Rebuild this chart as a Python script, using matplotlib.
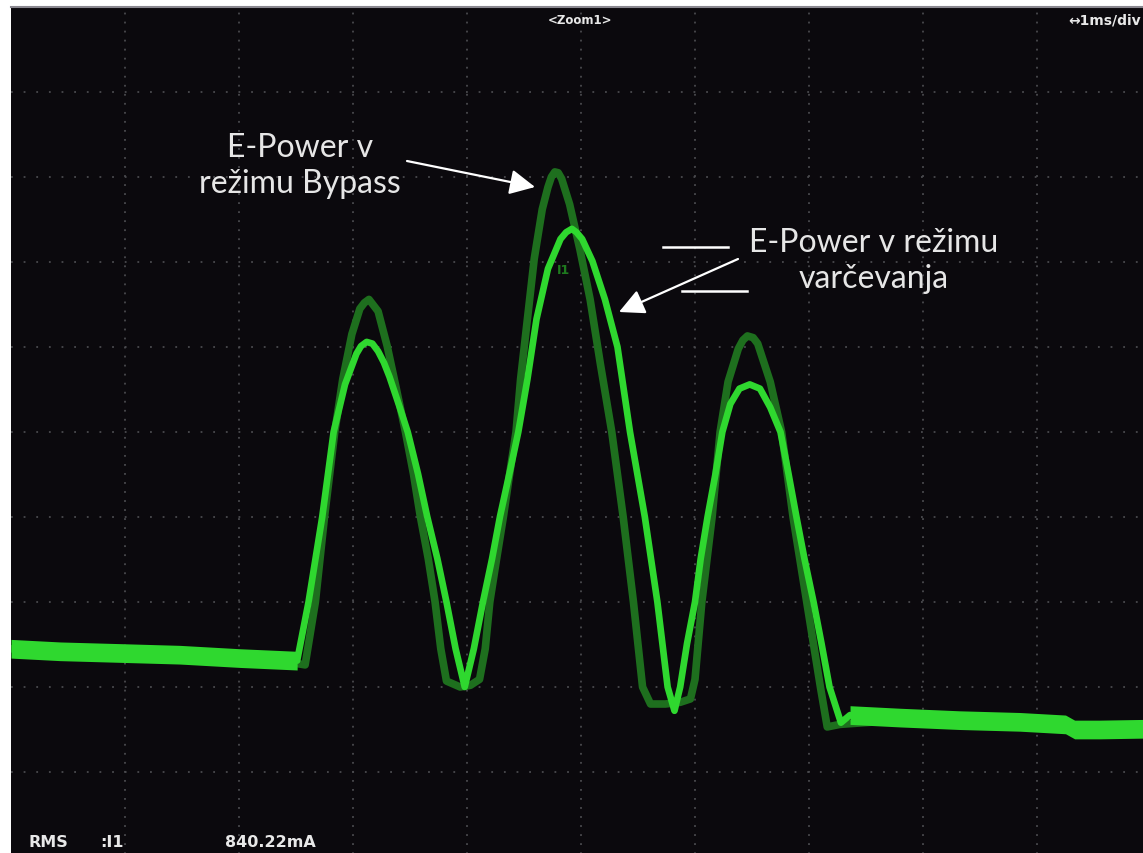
import matplotlib
matplotlib.use("Agg")
import matplotlib.pyplot as plt
import numpy as np

# ---------------- data (time in ms, amplitude in screen divisions) ----------------
# E-Power in savings mode (bright trace)
save_base_left_t = [0.00, 0.43, 0.96, 1.48, 2.01, 2.51]
save_base_left_v = [2.45, 2.42, 2.40, 2.38, 2.34, 2.31]
save_pulse_t = [2.51, 2.61, 2.73, 2.83, 2.93, 3.03, 3.07, 3.12, 3.17, 3.22, 3.27, 3.32, 3.41,
                3.48, 3.57, 3.65, 3.74, 3.82, 3.90, 3.98,
                4.06, 4.14, 4.22, 4.29, 4.38, 4.45, 4.53, 4.61, 4.71, 4.82, 4.87, 4.92, 4.96,
                5.01, 5.10, 5.21, 5.32, 5.43, 5.56, 5.67, 5.76, 5.82,
                5.87, 5.93, 6.00, 6.05, 6.11, 6.18, 6.24, 6.31, 6.39, 6.48, 6.57, 6.66, 6.75,
                6.82, 6.89, 6.96, 7.04, 7.11, 7.18, 7.28, 7.36]
save_pulse_v = [2.31, 3.00, 4.00, 5.00, 5.56, 5.92, 6.01, 6.06, 6.04, 5.95, 5.82, 5.65, 5.29,
                5.00, 4.51, 4.01, 3.51, 3.00, 2.45, 2.00,
                2.45, 3.00, 3.51, 4.01, 4.56, 5.00, 5.62, 6.33, 6.92, 7.27, 7.35, 7.39, 7.35,
                7.27, 7.01, 6.56, 6.00, 5.00, 4.00, 3.00, 2.00, 1.72,
                2.00, 2.51, 3.00, 3.51, 4.00, 4.51, 5.00, 5.33, 5.51, 5.56, 5.51, 5.29, 5.00,
                4.51, 4.00, 3.51, 3.00, 2.51, 2.00, 1.58, 1.67]
save_base_right_t = [7.36, 7.80, 8.32, 8.85, 9.25, 9.33, 9.55, 10.00]
save_base_right_v = [1.67, 1.64, 1.61, 1.59, 1.56, 1.50, 1.50, 1.51]

# E-Power in bypass mode (dark trace)
byp_t = [0.00, 0.43, 0.96, 1.48, 2.01, 2.49, 2.58, 2.67, 2.75, 2.84, 2.91, 2.99, 3.06, 3.10,
         3.14, 3.18, 3.22, 3.30, 3.38, 3.46, 3.53, 3.59, 3.66, 3.72, 3.77, 3.82, 3.94, 4.03,
         4.11, 4.16, 4.20, 4.26, 4.32, 4.38, 4.43, 4.47, 4.53, 4.59, 4.66, 4.71, 4.74, 4.77,
         4.80, 4.83, 4.90, 4.99, 5.08, 5.17, 5.27, 5.37, 5.46, 5.54, 5.61, 5.74, 5.87, 5.96,
         6.00, 6.06, 6.15, 6.22, 6.29, 6.38, 6.42, 6.46, 6.51, 6.55, 6.66, 6.76, 6.86, 6.98,
         7.10, 7.16, 7.27, 7.80, 8.85, 10.00]
byp_v = [2.45, 2.42, 2.40, 2.38, 2.34, 2.28, 2.26, 3.00, 4.00, 5.00, 5.62, 6.15, 6.45, 6.52,
         6.56, 6.49, 6.42, 6.01, 5.51, 5.00, 4.51, 4.01, 3.51, 3.00, 2.45, 2.07, 2.00, 2.02,
         2.09, 2.45, 3.00, 3.51, 4.01, 4.56, 5.00, 5.62, 6.33, 7.04, 7.62, 7.88, 8.00, 8.06,
         8.05, 7.98, 7.68, 7.15, 6.56, 5.80, 5.00, 4.00, 3.00, 2.00, 1.80, 1.80, 1.82, 1.86,
         2.09, 3.00, 4.00, 5.00, 5.59, 5.98, 6.08, 6.13, 6.11, 6.04, 5.59, 5.00, 4.00, 3.00,
         2.00, 1.53, 1.56, 1.61, 1.56, 1.49]

header_center = "<Zoom1>"
header_right = "\u21941ms/div"
meas_name = "RMS"
meas_chan = ":I1"
meas_value = "840.22mA"
label_bypass = "E-Power v\nrežimu Bypass"
label_save = "E-Power v režimu\nvarčevanja"

# ---------------- figure ----------------
W, H = 1143, 854
fig = plt.figure(figsize=(W / 100, H / 100), dpi=100, facecolor="white")

def fx(px):
    return px / W

def fy(py):
    return 1 - py / H

ax = fig.add_axes([fx(11), fy(858), 1140 / W, 850 / H])
ax.set_facecolor("#0b090d")
ax.set_xlim(0, 10)
ax.set_ylim(0, 10)
for s in ["left", "right", "bottom"]:
    ax.spines[s].set_visible(False)
ax.spines["top"].set_color("#8a8890")
ax.spines["top"].set_linewidth(1.5)
ax.set_xticks([])
ax.set_yticks([])

# dotted graticule
grid_col = "#4a4a4e"
for k in range(1, 10):
    ax.axvline(k, color=grid_col, lw=1.3, ls=(0, (1, 4)), zorder=1)
    ax.axhline(k, color=grid_col, lw=1.3, ls=(0, (1, 6)), zorder=1)

bright = "#2fd82f"
dark = "#1e6f1e"

# bypass (dark) trace
ax.plot(byp_t, byp_v, color=dark, lw=5.5, solid_joinstyle="round",
        solid_capstyle="round", zorder=2)

# savings (bright) trace
band = 0.11
ax.fill_between(save_base_left_t, np.array(save_base_left_v) - band,
                np.array(save_base_left_v) + band, color=bright, lw=0, zorder=3)
ax.fill_between(save_base_right_t, np.array(save_base_right_v) - band,
                np.array(save_base_right_v) + band, color=bright, lw=0, zorder=3)
ax.plot(save_pulse_t, save_pulse_v, color=bright, lw=4.8, solid_joinstyle="round",
        solid_capstyle="round", zorder=3)

# small channel marker
fig.text(fx(564), fy(270), "I1", color="#1e7a1e", fontsize=9, fontweight="bold",
         family=["Liberation Sans Narrow", "DejaVu Sans"], ha="center", va="center")

# scope header / footer text
scope_font = ["Liberation Sans Narrow", "DejaVu Sans"]
fig.text(fx(580), fy(20), header_center, color="#e8e8e8", fontsize=8.5, fontweight="bold",
         family=scope_font, ha="center", va="center")
fig.text(fx(1141), fy(20), header_right, color="#e8e8e8", fontsize=10, fontweight="bold",
         family=scope_font, ha="right", va="center")
fig.text(fx(29), fy(843), meas_name, color="#e8e8e8", fontsize=11.5, fontweight="bold",
         family=scope_font, ha="left", va="center")
fig.text(fx(100), fy(843), meas_chan, color="#e8e8e8", fontsize=11.5, fontweight="bold",
         family=scope_font, ha="left", va="center")
fig.text(fx(225), fy(843), meas_value, color="#e8e8e8", fontsize=11.5, fontweight="bold",
         family=scope_font, ha="left", va="center")

# annotations
txt_col = "#e6e6e6"
ann_font = ["Lato", "DejaVu Sans"]
fig.text(fx(300), fy(166), label_bypass, color=txt_col, fontsize=23, family=ann_font,
         ha="center", va="center", linespacing=1.28)
fig.text(fx(874), fy(261), label_save, color=txt_col, fontsize=23, family=ann_font,
         ha="center", va="center", linespacing=1.22)

arrow_kw = dict(arrowstyle="-|>,head_length=1.1,head_width=0.55", color="white", lw=1.6,
                shrinkA=0, shrinkB=0, mutation_scale=14)
fig.add_artist(matplotlib.patches.FancyArrowPatch((fx(407), fy(162)), (fx(535), fy(188)),
               transform=fig.transFigure, **arrow_kw))
fig.add_artist(matplotlib.patches.FancyArrowPatch((fx(738), fy(260)), (fx(619), fy(313)),
               transform=fig.transFigure, **arrow_kw))

fig.add_artist(matplotlib.lines.Line2D([fx(663), fx(728)], [fy(248), fy(248)],
               transform=fig.transFigure, color="white", lw=1.8))
fig.add_artist(matplotlib.lines.Line2D([fx(682), fx(747)], [fy(292), fy(292)],
               transform=fig.transFigure, color="white", lw=1.8))

fig.savefig("out.png", dpi=100, facecolor="white")
